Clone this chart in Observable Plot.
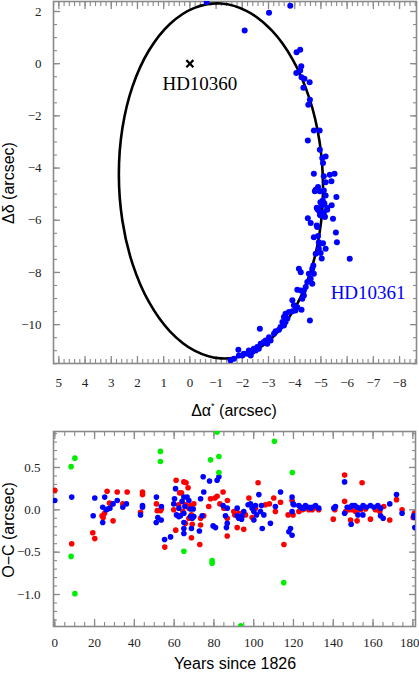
<!DOCTYPE html>
<html><head><meta charset="utf-8">
<script src="https://cdn.jsdelivr.net/npm/d3@7"></script>
<script src="https://cdn.jsdelivr.net/npm/@observablehq/plot@0.6"></script>
<style>
body{margin:0;background:#fff;width:419px;height:680px;position:relative;overflow:hidden}
#top,#bot{position:absolute;left:0}
#top{top:0}
#bot{top:420px}
#top svg,#bot svg{font-family:"Liberation Serif","Times New Roman",Times,serif !important;font-size:13px !important}
.lab{position:absolute;font-family:"Liberation Sans",Arial,Helvetica,sans-serif;font-size:16px;color:#000;white-space:nowrap;line-height:1}
.lab sup{font-size:9px;vertical-align:7px}
</style></head><body>
<div id="top"></div><div id="bot"></div>
<div class="lab" style="left:234px;top:410px;transform:translate(-50%,-50%)">Δα<sup>*</sup> (arcsec)</div>
<div class="lab" style="left:9px;top:183px;transform:translate(-50%,-50%) rotate(-90deg)">Δδ (arcsec)</div>
<div class="lab" style="left:235px;top:664px;transform:translate(-50%,-50%)">Years since 1826</div>
<div class="lab" style="left:9px;top:530px;transform:translate(-50%,-50%) rotate(-90deg)">O−C (arcsec)</div>
<script>
// ---------- Top panel: relative orbit of HD10361 around HD10360 ----------
const primaryStar = [{name: "HD10360", x: 0, y: 0}];
const secondaryName = "HD10361";

// fitted orbit, points (Δα*, Δδ in arcsec)
const orbit = [
  [2.710, -4.238], [2.577, -2.487], [2.188, -0.872], [1.569, 0.495], [0.763, 1.523], [-0.177, 2.140],
  [-1.185, 2.305], [-2.193, 2.006], [-3.133, 1.265], [-3.939, 0.131], [-4.558, -1.318], [-4.947, -2.983],
  [-5.080, -4.752], [-4.947, -6.503], [-4.558, -8.118], [-3.939, -9.485], [-3.133, -10.513], [-2.193, -11.130],
  [-1.185, -11.295], [-0.177, -10.996], [0.763, -10.255], [1.569, -9.121], [2.188, -7.672], [2.577, -6.007]
];

// observed positions of HD10361
const observed = [
  [-0.64,2.36],[-2.09,1.27],[-3.02,1.95],[-3.83,2.22],
  [-4.07,0.44],[-4.21,0.53],[-4.25,-0.10],[-4.21,-0.26],[-4.06,-0.36],[-4.26,-0.52],[-4.37,-0.58],[-4.57,-0.71],[-4.33,-0.92],[-4.58,-1.38],[-4.52,-1.57],
  [-4.73,-2.56],[-4.95,-2.56],[-4.50,-2.94],[-4.96,-3.30],[-5.05,-3.61],[-5.18,-3.56],[-5.08,-3.81],[-4.73,-4.22],[-5.11,-4.31],[-5.34,-4.26],[-5.52,-4.22],[-5.40,-4.51],[-5.18,-4.54],
  [-4.80,-4.83],[-4.89,-4.73],[-4.96,-4.89],[-5.11,-4.86],[-4.77,-4.89],[-5.18,-5.05],[-5.07,-5.24],[-4.98,-5.31],[-5.13,-5.35],[-5.59,-5.11],
  [-4.84,-5.52],[-4.89,-5.60],[-5.24,-5.52],[-5.41,-5.43],[-4.96,-5.79],[-5.14,-5.85],[-5.46,-5.94],[-4.50,-5.92],[-4.61,-6.11],[-4.84,-6.20],[-4.73,-6.65],[-4.89,-6.60],[-5.57,-6.47],[-5.61,-6.84],[-4.92,-6.84],[-4.96,-6.90],
  [-5.09,-5.37],[-5.03,-5.43],[-4.86,-5.56],[-4.92,-5.63],[-5.24,-5.60],[-5.11,-5.69],[-4.99,-5.82],[-5.15,-5.88],[-4.86,-6.26],
  [-6.10,-7.48],[-5.18,-7.09],[-4.58,-9.84],[-2.67,-10.16],
  [-5.08,-6.88],[-4.92,-7.09],[-4.99,-7.26],[-4.80,-7.28],[-5.03,-7.47],
  [-4.71,-7.73],[-4.67,-7.86],[-4.54,-8.05],[-4.73,-8.05],[-4.61,-8.24],[-4.48,-8.37],[-4.67,-8.43],[-4.16,-7.86],[-4.23,-7.99],
  [-4.42,-8.56],[-4.35,-8.69],[-4.23,-8.69],[-4.10,-8.66],[-4.35,-8.88],[-4.29,-9.01],
  [-3.91,-9.07],[-3.97,-9.26],[-4.10,-9.33],[-4.26,-9.43],[-4.03,-9.46],[-3.91,-9.49],[-3.78,-9.52],[-3.65,-9.58],[-3.59,-9.71],[-3.72,-9.77],[-3.65,-9.90],[-3.53,-9.90],[-3.59,-10.03],[-3.46,-10.09],
  [-3.40,-10.20],[-3.27,-10.25],[-3.21,-10.35],
  [-3.02,-10.48],[-3.08,-10.61],[-2.89,-10.61],[-2.95,-10.73],[-2.82,-10.67],[-2.70,-10.73],[-2.57,-10.86],[-2.63,-10.92],[-2.44,-10.92],[-2.38,-11.05],[-2.25,-10.99],[-2.19,-11.12],[-2.06,-11.12],[-2.00,-11.18],[-1.87,-11.18],[-1.85,-10.96],[-1.68,-11.31],[-1.55,-11.37],[-2.32,-11.18],[-2.51,-10.99]
];

const topXTicks = [5, 4, 3, 2, 1, 0, -1, -2, -3, -4, -5, -6, -7, -8];
const topYTicks = [2, 0, -2, -4, -6, -8, -10];
const topXMinor = d3.range(-86, 53, 2).map(v => v / 10);
const topYMinor = d3.range(-23, 5, 1).map(v => v / 2);

// ---------- Bottom panel: O−C residuals ----------
const residRed = [
  [0,0.23],[8.5,-0.40],[19.1,-0.27],[20.1,-0.34],[23.8,-0.07],[24.3,-0.09],[25.0,-0.04],[26.3,0.22],[27.5,0.08],[28.9,0.07],[29.3,-0.13],[31.4,0.21],[34.2,0.07],[36.4,0.21],[43.1,-0.03],[44.1,0.21],[44.1,0.18],[51.1,0.07],[51.5,-0.01],[53.1,-0.01],[53.6,0.01],[55.3,-0.44],[60.8,-0.24],[59.8,0.00],[61.0,0.35],[62.8,0.20],[62.3,0.06],
  [64.9,0.33],[66.0,0.32],[67.0,0.26],[63.7,0.20],[65.7,0.06],[68.2,0.05],[69.9,0.07],[67.4,0.02],[64.4,-0.02],[68.7,-0.06],[67.4,-0.10],[73.3,-0.10],[74.9,-0.07],[65.7,-0.16],[69.1,-0.17],[73.3,-0.18],[68.7,-0.33],[72.9,-0.41],[78.3,0.13],[80.5,0.14],[81.6,0.16],[84.6,0.21],[83.0,0.07],[86.8,0.11],[77.4,0.04],[85.0,0.02],[90.0,-0.02],[90.5,-0.06],[92.5,-0.04],[95.9,-0.06],[86.7,-0.10],[91.7,-0.21],[95.0,-0.23],[86.7,-0.31],[97.6,0.14],[102.2,0.32],[100.9,0.02],[105.9,0.06],[110.1,0.14],[113.5,0.09],[110.9,-0.02],[117.3,-0.06],[115.2,-0.41],[119.8,-0.06],[107.9,0.07],[99.2,-0.09],
  [119.3,0.11],[122.7,-0.02],[125.2,0.01],[127.7,0.00],[130.2,0.02],[132.7,0.00],[124.4,0.00],[129.4,0.00],[140.0,-0.11],[140.8,0.00],[145.7,0.41],[145.7,0.10],[148.7,-0.12],[152.0,-0.13],[154.5,0.32],[158.7,-0.11],[168.4,-0.12],[149.5,0.00],[151.2,-0.02],[153.7,0.00],[156.2,0.01],[161.2,0.00],[163.4,-0.02],[165.4,0.04],[146.2,-0.02],[147.8,0.00],[171.8,0.12],[174.6,0.00],[180.8,-0.04],[181.3,-0.07],[180.2,-0.09]
];
const residBlue = [
  [0,0.11],[8.5,0.15],[19.3,-0.07],[20.1,0.14],[25.1,0.15],[24.1,0.03],[24.1,-0.15],[25.8,0.00],[26.6,0.01],[27.7,0.02],[29.3,0.07],[31.4,0.11],[34.2,0.03],[36.0,0.07],[43.1,-0.06],[44.1,0.05],[44.1,0.03],[51.1,0.15],[53.6,0.04],[51.8,-0.09],[53.5,-0.12],[51.0,-0.15],[55.2,-0.35],[58.2,-0.32],[60.2,0.13],[59.8,0.07],[61.2,-0.06],[62.3,-0.08],
  [60.7,0.25],[64.9,0.15],[66.5,0.15],[67.4,0.11],[64.0,0.10],[62.4,0.02],[65.4,0.04],[68.2,0.01],[69.6,0.01],[63.2,-0.07],[64.9,-0.04],[68.2,-0.08],[69.1,-0.10],[69.9,-0.08],[64.9,-0.15],[64.9,-0.22],[68.7,-0.22],[64.9,-0.28],[72.7,-0.25],[73.3,0.13],[74.9,0.21],[74.1,-0.07],[74.6,0.39],[77.8,0.34],[81.6,0.35],[82.5,0.39],[79.6,-0.19],[80.8,-0.21],[84.6,0.05],[86.7,0.02],[85.8,-0.07],[86.7,-0.16],[86.3,-0.21],[91.7,0.02],[91.7,-0.07],[92.5,-0.10],[94.2,-0.07],[93.9,-0.11],[95.0,-0.02],[97.2,0.06],[98.4,0.07],[99.2,0.02],[100.9,0.05],[100.1,-0.02],[101.4,-0.06],[100.1,-0.12],[102.6,0.18],[103.9,0.05],[105.1,-0.06],[103.4,-0.02],[108.4,-0.16],[104.3,-0.22],[110.9,0.04],[113.5,0.21],[119.3,0.15],[120.2,0.06],[118.5,-0.22],[119.3,-0.30],[117.7,-0.26],
  [119.8,0.07],[119.3,-0.02],[122.7,0.05],[124.4,0.02],[126.0,0.05],[127.7,0.03],[129.4,0.03],[131.1,0.05],[132.7,0.02],[125.2,0.02],[128.6,0.02],[123.5,0.03],[140.3,0.02],[141.1,0.04],[145.7,0.33],[145.7,-0.04],[147.0,0.03],[148.3,0.03],[149.5,0.05],[150.8,0.05],[152.0,0.03],[153.7,0.02],[155.0,0.05],[156.7,0.03],[158.7,0.05],[160.4,0.03],[162.4,0.05],[163.8,0.02],[149.0,-0.17],[152.4,-0.06],[154.9,-0.06],[163.8,-0.07],[165.1,-0.10],[168.4,0.07],[171.8,0.18],[174.6,-0.04],[180.5,-0.07],[180.8,-0.09],[181.0,-0.21]
];
const residGreen = [
  [8.2,0.51],[10.1,0.61],[8.2,-0.55],[10.1,-0.99],[53.1,0.69],[53.1,0.57],[64.9,-0.49],[78.3,0.59],[79.1,-0.60],[79.1,-0.63],[81.6,0.92],[82.5,0.63],[82.5,0.44],[93.5,-1.37],[110.4,0.81],[115.1,-0.86],[119.4,0.44]
];

const botXTicks = [0, 20, 40, 60, 80, 100, 120, 140, 160, 180];
const botYTicks = [0.5, 0.0, -0.5, -1.0];
const botXMinor = d3.range(0, 185, 5);
const botYMinor = d3.range(-13, 10, 1).map(v => v / 10);

// ---------- shared frame/tick styling ----------
const frameGray = "#8a8a8a";
const serif = '"Liberation Serif","Times New Roman",Times,serif';

function boxAxes(xMajor, xMinor, yMajor, yMinor, fx, fy, padX, padY, majLen, minLen) {
  const blank = () => "";
  const m = [Plot.frame({stroke: frameGray, strokeWidth: 1.6})];
  for (const a of ["bottom", "top"]) {
    m.push(Plot.axisX(xMinor, {anchor: a, tickSize: -minLen, tickFormat: blank, stroke: frameGray, strokeWidth: 1.1, label: null}));
    m.push(Plot.axisX(xMajor, {anchor: a, tickSize: -majLen, tickFormat: blank, stroke: frameGray, strokeWidth: 1.3, label: null}));
  }
  for (const a of ["left", "right"]) {
    m.push(Plot.axisY(yMinor, {anchor: a, tickSize: -minLen, tickFormat: blank, stroke: frameGray, strokeWidth: 1.1, label: null}));
    m.push(Plot.axisY(yMajor, {anchor: a, tickSize: -majLen, tickFormat: blank, stroke: frameGray, strokeWidth: 1.3, label: null}));
  }
  const last = xMajor[xMajor.length - 1];
  m.push(Plot.axisX(xMajor.filter(v => v !== last), {anchor: "bottom", tickSize: 0, tickPadding: padX, tickFormat: fx, label: null, fill: "#222", fontFamily: serif, fontSize: 13}));
  m.push(Plot.axisX([last], {anchor: "bottom", tickSize: 0, tickPadding: padX, tickFormat: fx, label: null, fill: "#222", fontFamily: serif, fontSize: 13, dx: last === 180 ? -3 : 0}));
  m.push(Plot.axisY(yMajor, {anchor: "left", tickSize: 0, tickPadding: padY, tickFormat: fy, label: null, fill: "#222", fontFamily: serif, fontSize: 13}));
  return m;
}

const intFmt = d3.format("d");
const oneFmt = d3.format(".1f");

const topPlot = Plot.plot({
  width: 419, height: 420,
  marginTop: 1, marginBottom: 57, marginLeft: 53, marginRight: 3,
  style: {fontFamily: serif, fontSize: "13px", background: "transparent", overflow: "visible"},
  x: {domain: [5.204, -8.647]},
  y: {domain: [-11.49, 2.383]},
  marks: [
    ...boxAxes(topXTicks, topXMinor, topYTicks, topYMinor, intFmt, intFmt, 14, 12, 7, 4),
    Plot.line(orbit, {x: d => d[0], y: d => d[1], curve: "catmull-rom-closed", stroke: "#000", strokeWidth: 2.6, clip: true}),
    Plot.dot(observed, {x: d => d[0], y: d => d[1], r: 3, fill: "#0000ff", stroke: "none", clip: true}),
    Plot.dot(primaryStar, {x: "x", y: "y", symbol: "times", r: 3.3, stroke: "#000", strokeWidth: 2.2}),
    Plot.text(primaryStar, {x: "x", y: "y", text: "name", dx: 10, dy: 20, fontSize: 19, fill: "#000", fontFamily: serif}),
    Plot.text([secondaryName], {x: -6.8, y: -8.77, text: d => d, fontSize: 19, fill: "#0000ff", fontFamily: serif})
  ]
});
document.getElementById("top").append(topPlot);

const botPlot = Plot.plot({
  width: 419, height: 260,
  marginTop: 11, marginBottom: 54, marginLeft: 53, marginRight: 4,
  style: {fontFamily: serif, fontSize: "13px", background: "transparent", overflow: "visible"},
  x: {domain: [-0.65, 181.35]},
  y: {domain: [-1.378, 0.925]},
  marks: [
    ...boxAxes(botXTicks, botXMinor, botYTicks, botYMinor, intFmt, oneFmt, 11, 13, 7, 4),
    Plot.dot(residRed, {x: d => d[0], y: d => d[1], r: 2.8, fill: "#ff0000", stroke: "none", clip: true}),
    Plot.dot(residBlue, {x: d => d[0], y: d => d[1], r: 2.8, fill: "#0000ff", stroke: "none", clip: true}),
    Plot.dot(residGreen, {x: d => d[0], y: d => d[1], r: 2.8, fill: "#00ee00", stroke: "none", clip: true})
  ]
});
document.getElementById("bot").append(botPlot);
</script>
</body></html>
